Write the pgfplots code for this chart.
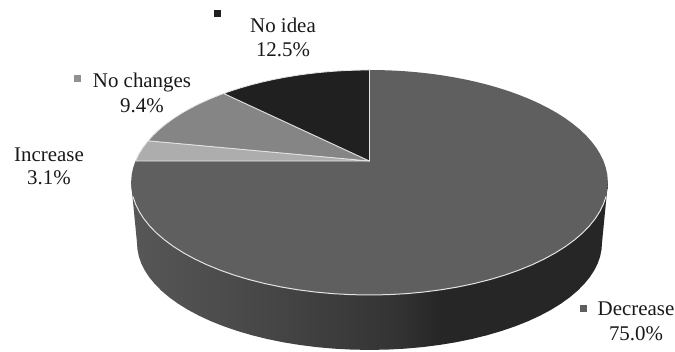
\documentclass[border=0pt]{standalone}
\usepackage{pgfplots}
\pgfplotsset{compat=1.18}
\usepackage{fontspec}
\setmainfont{Liberation Serif}

% Colours of the slices and of the rim
\definecolor{decr}{HTML}{5F5F5F}
\definecolor{incr}{HTML}{ADADAD}
\definecolor{nochg}{HTML}{858585}
\definecolor{noidea}{HTML}{202020}
\definecolor{rimL}{HTML}{575757}
\definecolor{rimA}{HTML}{464646}
\definecolor{rimB}{HTML}{333333}
\definecolor{rimR}{HTML}{262626}
\definecolor{edge}{HTML}{E4E4E4}

% Side wall: grey falling from left to right, flat from a little right of the middle
\pgfdeclarehorizontalshading{rimshade}{100bp}{
  color(0bp)=(rimL); color(25bp)=(rimL); color(39.6bp)=(rimA);
  color(53bp)=(rimB); color(57.4bp)=(rimR); color(100bp)=(rimR)}

% Label text
\tikzset{lab/.style={anchor=base, inner sep=0pt, text=black!90,
  font=\fontsize{20.9}{24.5}\selectfont}}

% Perspective view of the disc: pct = share of the circle clockwise from the top,
% r = 0 at the hub and 1 on the rim, #1 = 0 for the top face and 1 for the base.
\pgfplotsset{
  /pgfplots/table/disc/.style={
    x expr={369.5+(234-5.8*#1)*\thisrow{r}*sin(3.6*\thisrow{pct})
            /(1+0.191*\thisrow{r}*cos(3.6*\thisrow{pct}))},
    y expr={161+61.6*#1-(108.4-5.4*#1)*\thisrow{r}*cos(3.6*\thisrow{pct})
            /(1+0.191*\thisrow{r}*cos(3.6*\thisrow{pct}))}
  }
}

\begin{document}
\begin{tikzpicture}
\useasboundingbox (0,0) rectangle (675pt,351pt);
\begin{axis}[
  at={(0,0)}, anchor=south west,
  scale only axis, width=675pt, height=351pt,
  xmin=0, xmax=675, ymin=0, ymax=351, y dir=reverse,
  hide axis, clip=false
]
% side wall of the disc, from the left extreme to the right extreme
\addplot[draw=none, shade, shading=rimshade]
  table[disc=\thisrow{lvl}, row sep=\\] {
  pct r lvl\\
  28.06 1 0\\ 28.06 1 1\\ 29 1 1\\ 30 1 1\\ 31 1 1\\ 32 1 1\\ 33 1 1\\ 34 1 1\\ 35 1 1\\ 36 1 1\\ 37 1 1\\ 38 1 1\\
  39 1 1\\ 40 1 1\\ 41 1 1\\ 42 1 1\\ 43 1 1\\ 44 1 1\\ 45 1 1\\ 46 1 1\\ 47 1 1\\ 48 1 1\\ 49 1 1\\ 50 1 1\\
  51 1 1\\ 52 1 1\\ 53 1 1\\ 54 1 1\\ 55 1 1\\ 56 1 1\\ 57 1 1\\ 58 1 1\\ 59 1 1\\ 60 1 1\\ 61 1 1\\ 62 1 1\\
  63 1 1\\ 64 1 1\\ 65 1 1\\ 66 1 1\\ 67 1 1\\ 68 1 1\\ 69 1 1\\ 70 1 1\\ 71 1 1\\ 71.94 1 1\\ 71.94 1 0\\
} -- cycle;

% Decrease 75.0%
\addplot[fill=decr, draw=none]
  table[disc=0, row sep=\\] {
  pct r\\
  0 0\\ 0 1\\ 1 1\\ 2 1\\ 3 1\\ 4 1\\ 5 1\\ 6 1\\ 7 1\\ 8 1\\ 9 1\\ 10 1\\ 11 1\\ 12 1\\ 13 1\\ 14 1\\ 15 1\\
  16 1\\ 17 1\\ 18 1\\ 19 1\\ 20 1\\ 21 1\\ 22 1\\ 23 1\\ 24 1\\ 25 1\\ 26 1\\ 27 1\\ 28 1\\ 29 1\\ 30 1\\
  31 1\\ 32 1\\ 33 1\\ 34 1\\ 35 1\\ 36 1\\ 37 1\\ 38 1\\ 39 1\\ 40 1\\ 41 1\\ 42 1\\ 43 1\\ 44 1\\ 45 1\\
  46 1\\ 47 1\\ 48 1\\ 49 1\\ 50 1\\ 51 1\\ 52 1\\ 53 1\\ 54 1\\ 55 1\\ 56 1\\ 57 1\\ 58 1\\ 59 1\\ 60 1\\
  61 1\\ 62 1\\ 63 1\\ 64 1\\ 65 1\\ 66 1\\ 67 1\\ 68 1\\ 69 1\\ 70 1\\ 71 1\\ 72 1\\ 73 1\\ 74 1\\ 75 1\\
} -- cycle;

% light line along the front of the top face
\addplot[draw=edge, line width=1pt, line cap=round]
  table[disc=0, row sep=\\] {
  pct r\\
  30 1\\ 31 1\\ 32 1\\ 33 1\\ 34 1\\ 35 1\\ 36 1\\ 37 1\\ 38 1\\ 39 1\\ 40 1\\ 41 1\\ 42 1\\ 43 1\\ 44 1\\ 45 1\\
  46 1\\ 47 1\\ 48 1\\ 49 1\\ 50 1\\ 51 1\\ 52 1\\ 53 1\\ 54 1\\ 55 1\\ 56 1\\ 57 1\\ 58 1\\ 59 1\\ 60 1\\
  61 1\\ 62 1\\ 63 1\\ 64 1\\ 65 1\\ 66 1\\ 67 1\\ 68 1\\ 69 1\\ 70 1\\
};

% Increase 3.1%
\addplot[fill=incr, draw=edge, line width=0.8pt, line join=round]
  table[disc=0, row sep=\\] {
  pct r\\
  75 0\\ 75 1\\ 76 1\\ 77 1\\ 78.1 1\\
} -- cycle;

% No changes 9.4%
\addplot[fill=nochg, draw=edge, line width=0.8pt, line join=round]
  table[disc=0, row sep=\\] {
  pct r\\
  78.1 0\\ 78.1 1\\ 79 1\\ 80 1\\ 81 1\\ 82 1\\ 83 1\\ 84 1\\ 85 1\\ 86 1\\ 87 1\\ 87.5 1\\
} -- cycle;

% No idea 12.5%
\addplot[fill=noidea, draw=edge, line width=0.8pt, line join=round]
  table[disc=0, row sep=\\] {
  pct r\\
  87.5 0\\ 87.5 1\\ 88 1\\ 89 1\\ 90 1\\ 91 1\\ 92 1\\ 93 1\\ 94 1\\ 95 1\\ 96 1\\ 97 1\\ 98 1\\ 99 1\\ 100 1\\
} -- cycle;

% legend keys beside the labels
\addplot[only marks, mark=square*, mark size=3pt, color=noidea] coordinates {(217,13.5)};
\addplot[only marks, mark=square*, mark size=3pt, color=nochg!90] coordinates {(77.5,78.5)};
\addplot[only marks, mark=square*, mark size=3pt, color=decr] coordinates {(583,308)};

% labels
\node[lab] at (axis cs:283,32) {No idea};
\node[lab] at (axis cs:283,56) {12.5\%};
\node[lab] at (axis cs:142,87) {No changes};
\node[lab] at (axis cs:142,112) {9.4\%};
\node[lab] at (axis cs:49,161) {Increase};
\node[lab] at (axis cs:49,184) {3.1\%};
\node[lab] at (axis cs:636,315) {Decrease};
\node[lab] at (axis cs:636,340) {75.0\%};
\end{axis}
\end{tikzpicture}
\end{document}
